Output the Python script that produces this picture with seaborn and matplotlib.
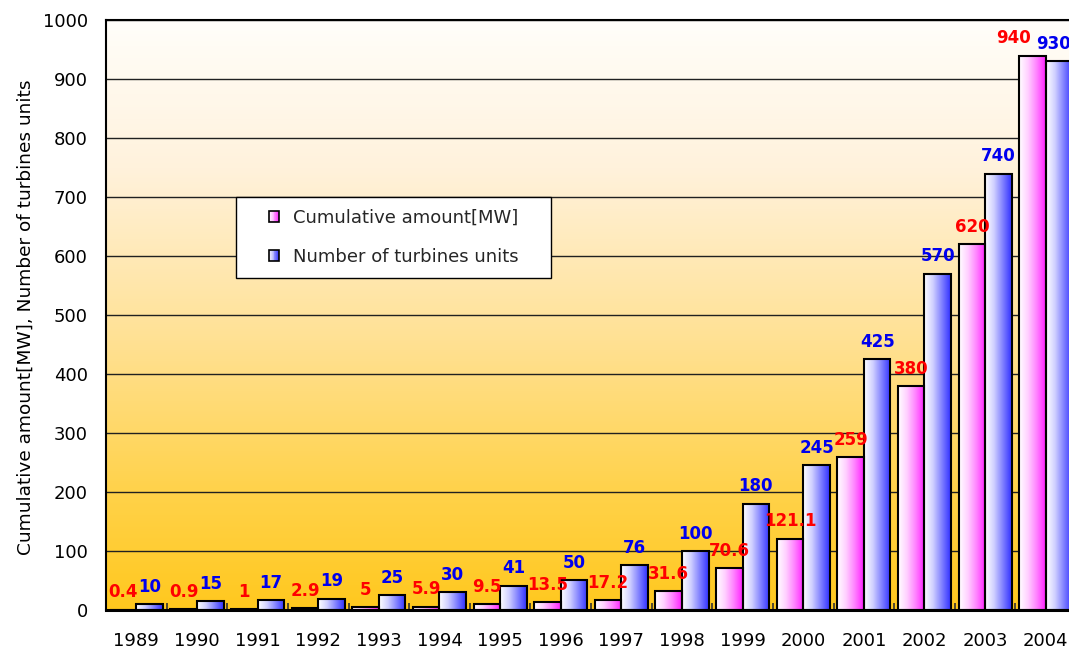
import numpy as np
import pandas as pd
import matplotlib
matplotlib.use("Agg")
import matplotlib.pyplot as plt
import seaborn as sns
from matplotlib.colors import LinearSegmentedColormap
from matplotlib.patches import Rectangle, Patch
from matplotlib.legend_handler import HandlerBase
from matplotlib.ticker import FixedLocator, MultipleLocator

years = ["1989", "1990", "1991", "1992", "1993", "1994", "1995", "1996",
         "1997", "1998", "1999", "2000", "2001", "2002", "2003", "2004"]
cumulative_mw = [0.4, 0.9, 1, 2.9, 5, 5.9, 9.5, 13.5, 17.2, 31.6, 70.6,
                 121.1, 259, 380, 620, 940]
turbine_units = [10, 15, 17, 19, 25, 30, 41, 50, 76, 100, 180, 245, 425,
                 570, 740, 930]
series_names = ["Cumulative amount[MW]", "Number of turbines units"]
y_label = "Cumulative amount[MW], Number of turbines units"

df = pd.DataFrame({
    "year": years * 2,
    "series": [series_names[0]] * len(years) + [series_names[1]] * len(years),
    "value": cumulative_mw + turbine_units,
})

sns.set_theme(style="white")
plt.rcParams["font.family"] = ["DejaVu Sans"]

pink_cmap = LinearSegmentedColormap.from_list(
    "pinkgrad", ["#ffffff", "#ffd0ff", "#ff80ff", "#ff20ff"])
blue_cmap = LinearSegmentedColormap.from_list(
    "bluegrad", ["#ffffff", "#d0d0ff", "#8080ff", "#3030ff"])
bg_cmap = LinearSegmentedColormap.from_list(
    "bggrad", [(0.0, "#ffc81e"), (0.20, "#ffd24a"), (0.44, "#ffe08f"),
               (0.75, "#fff2dc"), (1.0, "#fffefa")])

fig = plt.figure(figsize=(10.69, 6.51), dpi=100)
ax = fig.add_axes([0.0992, 0.063, 0.9074, 0.906])

sns.barplot(data=df, x="year", y="value", hue="series", order=years,
            hue_order=series_names, palette=["#ff80ff", "#8080ff"],
            width=0.875, dodge=True, legend=False, ax=ax,
            edgecolor="black", linewidth=1.5)

nx = len(years)
xlim = (-0.5, nx - 0.5)
ylim = (0, 1000)

# background gradient
bg = np.linspace(0, 1, 256).reshape(-1, 1)
ax.imshow(bg, extent=[xlim[0], xlim[1], ylim[0], ylim[1]], origin="lower",
          cmap=bg_cmap, aspect="auto", zorder=0)

# gradient fills for bars
grad = np.linspace(0, 1, 256).reshape(1, -1)
label_colors = ["#ff0000", "#0000ee"]
for k, (container, cmap, col) in enumerate(
        zip(ax.containers, [pink_cmap, blue_cmap], label_colors)):
    n = len(container.patches)
    for i, patch in enumerate(container.patches):
        x0, y0 = patch.get_x(), patch.get_y()
        w, h = patch.get_width(), patch.get_height()
        ax.imshow(grad, extent=[x0, x0 + w, y0, y0 + h], cmap=cmap,
                  aspect="auto", zorder=1.5)
        patch.set_facecolor("none")
        patch.set_zorder(2)
        xy = (x0 + w / 2, y0 + h)
        ha, dx = "center", 0
        if i == n - 1:
            # last group: labels shifted so they stay inside the figure
            if k == 0:
                ha, dx = "right", -1
            else:
                xy = (x0 + w, y0 + h)
                ha, dx = "right", -1
        ax.annotate(f"{h:g}", xy, xytext=(dx, 6),
                    textcoords="offset points", ha=ha, va="bottom",
                    color=col, fontsize=12, fontweight="bold",
                    annotation_clip=False, zorder=5)

ax.set_xlim(*xlim)
ax.set_ylim(*ylim)
ax.set_facecolor("none")

ax.yaxis.set_major_locator(MultipleLocator(100))
ax.yaxis.grid(True, color="#202020", linewidth=1.0)
ax.xaxis.grid(False)
ax.set_axisbelow(True)
for gl in ax.get_ygridlines():
    gl.set_zorder(1)

ax.xaxis.set_minor_locator(FixedLocator(np.arange(nx - 1) + 0.5))
ax.tick_params(axis="x", which="minor", direction="in", length=5,
               width=1.2, color="#333333", bottom=True)
ax.tick_params(axis="x", which="major", length=0, pad=16, labelsize=13,
               labelcolor="black")
ax.tick_params(axis="y", which="major", length=0, pad=13, labelsize=13,
               labelcolor="black")

ax.set_xlabel("")
ax.set_ylabel(y_label, fontsize=13.3, color="black")
ax.yaxis.set_label_coords(-0.074, 0.497)

for side in ["left", "top", "bottom", "right"]:
    ax.spines[side].set_visible(True)
    ax.spines[side].set_color("black")
ax.spines["left"].set_linewidth(1.5)
ax.spines["top"].set_linewidth(1.5)
ax.spines["bottom"].set_linewidth(2.2)
ax.spines["right"].set_linewidth(1.5)


class GradHandler(HandlerBase):
    def __init__(self, cmap):
        super().__init__()
        self.cmap = cmap

    def create_artists(self, legend, orig_handle, xdescent, ydescent,
                       width, height, fontsize, trans):
        n = 12
        arts = []
        for i in range(n):
            arts.append(Rectangle((-xdescent + width * i / n, -ydescent),
                                  width / n, height,
                                  facecolor=self.cmap((i + 0.5) / n),
                                  edgecolor="none", transform=trans))
        arts.append(Rectangle((-xdescent, -ydescent), width, height,
                              facecolor="none", edgecolor="black",
                              linewidth=1.2, transform=trans))
        return arts


h1 = Patch(label=series_names[0])
h2 = Patch(label=series_names[1])

box_left, box_right = 0.134, 0.459
box_bottom, box_top = 0.563, 0.700
ax.add_patch(Rectangle((box_left, box_bottom), box_right - box_left,
                       box_top - box_bottom, transform=ax.transAxes,
                       facecolor="white", edgecolor="black", linewidth=1.0,
                       zorder=6))
leg = ax.legend(handles=[h1, h2], labels=series_names,
                handler_map={h1: GradHandler(pink_cmap),
                             h2: GradHandler(blue_cmap)},
                loc="center",
                bbox_to_anchor=((box_left + box_right) / 2,
                                (box_bottom + box_top) / 2),
                frameon=False, fontsize=13, handlelength=0.55,
                handleheight=0.55, handletextpad=0.8, labelspacing=1.15,
                borderaxespad=0, borderpad=0)
leg.set_zorder(7)

fig.savefig("out.png", dpi=100)
